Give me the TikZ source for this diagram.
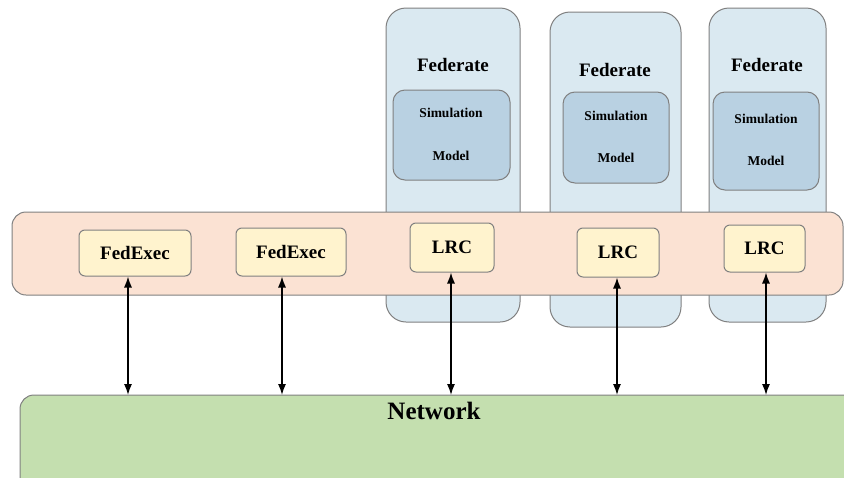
\documentclass[tikz,border=0pt]{standalone}
\usepackage{fontspec}
\setmainfont{Liberation Serif}
\usetikzlibrary{arrows.meta}
\begin{document}
\begin{tikzpicture}[x=1pt,y=-1pt,
  box/.style={draw=black!50,line width=1pt,rounded corners=#1},
  box/.default=8pt,
  fed/.style={box=20pt,fill=fedblue},
  sim/.style={box=12pt,fill=simblue},
  inner/.style={box=6pt,fill=lrcyellow},
  lbl/.style={font=\bfseries\fontsize{19}{19}\selectfont,inner sep=0pt},
  slbl/.style={font=\bfseries\fontsize{13.5}{13.5}\selectfont,inner sep=0pt},
  link/.style={line width=1.3pt,{Latex[length=11pt,width=8pt]}-{Latex[length=11pt,width=8pt]}}
]
\definecolor{fedblue}{HTML}{DAE9F1}
\definecolor{simblue}{HTML}{B9D1E2}
\definecolor{bandorange}{HTML}{FBE2D3}
\definecolor{lrcyellow}{HTML}{FFF3CE}
\definecolor{netgreen}{HTML}{C4DFAF}
\useasboundingbox (0,0) rectangle (844,477);
% federates
\draw[fed] (386,8) rectangle (520,322);
\draw[fed] (550,12) rectangle (681,327);
\draw[fed] (709,8) rectangle (826,322);
\node[lbl] (f1) at (453,65) {Federate};
\node[lbl] (f2) at (615,70) {Federate};
\node[lbl] (f3) at (767,65) {Federate};
\draw[sim] (393,90) rectangle (510,180);
\draw[sim] (563,92) rectangle (669,183);
\draw[sim] (713,92) rectangle (819,190);
\node[slbl] (s1a) at (451,113) {Simulation};
\node[slbl] (s1b) at (451,156) {Model};
\node[slbl] (s2a) at (616,116) {Simulation};
\node[slbl] (s2b) at (616,158) {Model};
\node[slbl] (s3a) at (766,119) {Simulation};
\node[slbl] (s3b) at (766,161) {Model};
% band
\draw[box=14pt,fill=bandorange] (12,212) rectangle (843,295);
% network
\draw[box=14pt,fill=netgreen] (20,395) rectangle (870,500);
\node[font=\bfseries\fontsize{25}{25}\selectfont,inner sep=0pt] (net) at (434,411) {Network};
% inner boxes
\node[inner,minimum width=112pt,minimum height=46pt,lbl] (e1) at (135,253) {FedExec};
\node[inner,minimum width=110pt,minimum height=48pt,lbl] (e2) at (291,252) {FedExec};
\node[inner,minimum width=84pt,minimum height=49pt,lbl] (l1) at (452,247.5) {LRC};
\node[inner,minimum width=82pt,minimum height=49pt,lbl] (l2) at (618,252.5) {LRC};
\node[inner,minimum width=81pt,minimum height=47pt,lbl] (l3) at (764.5,248.5) {LRC};
% connectors
\coordinate (n1) at (128,395);
\coordinate (n2) at (282,395);
\coordinate (n3) at (451,395);
\coordinate (n4) at (617,395);
\coordinate (n5) at (766,395);
\draw[link] (e1.south -| n1) -- (n1);
\draw[link] (e2.south -| n2) -- (n2);
\draw[link] (l1.south -| n3) -- (n3);
\draw[link] (l2.south -| n4) -- (n4);
\draw[link] (l3.south -| n5) -- (n5);
\end{tikzpicture}
\end{document}
